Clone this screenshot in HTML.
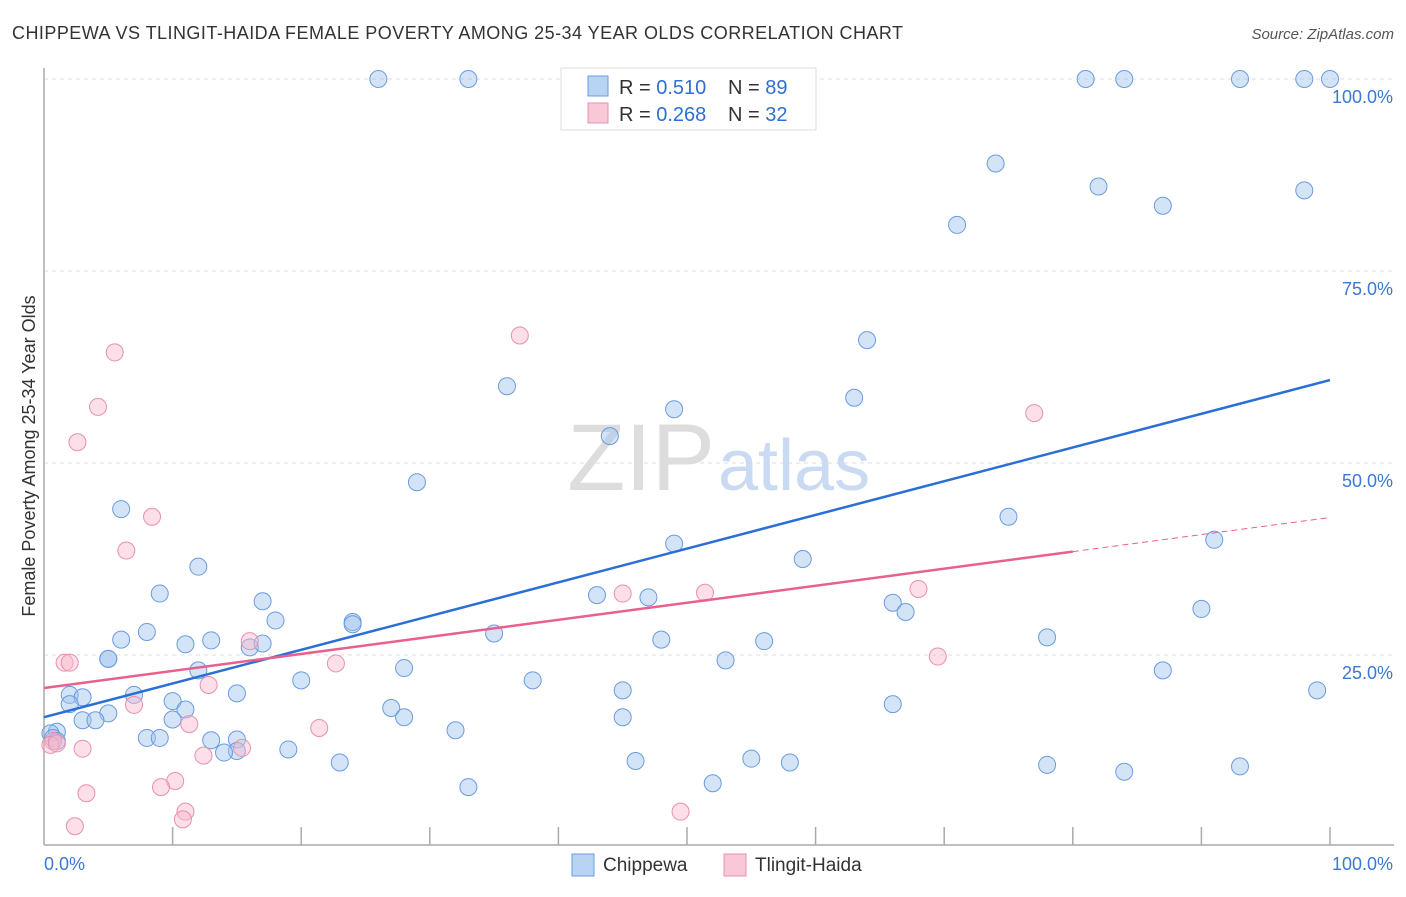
<!DOCTYPE html>
<html><head><meta charset="utf-8"><style>
body{margin:0;background:#fff;font-family:"Liberation Sans",sans-serif}
svg text{font-family:"Liberation Sans",sans-serif}
</style></head><body>
<svg width="1406" height="892">
<text x="12" y="39" font-size="18" fill="#333" textLength="891" lengthAdjust="spacing">CHIPPEWA VS TLINGIT-HAIDA FEMALE POVERTY AMONG 25-34 YEAR OLDS CORRELATION CHART</text>
<text x="1394" y="39" font-size="15" fill="#555" font-style="italic" text-anchor="end">Source: ZipAtlas.com</text>
<g id="grid"></g>
<text x="715" y="490" font-size="95" fill="#ddd" text-anchor="end" font-family="Liberation Serif">ZIP</text>
<text x="718" y="490" font-size="72" fill="#c9daf2">atlas</text>
<g id="axes"></g>
<g id="pts"></g>
<g id="lines"></g>
<text x="35" y="456" font-size="18" fill="#333" text-anchor="middle" transform="rotate(-90 35 456)">Female Poverty Among 25-34 Year Olds</text>
<g>
<rect x="561" y="68" width="255" height="62" fill="#fff" stroke="#ddd"/>
<rect x="588" y="76" width="20" height="20" fill="#b9d3f3" stroke="#6a9be0"/>
<rect x="588" y="103" width="20" height="20" fill="#f9c8d6" stroke="#e890ad"/>
<text x="619" y="94" font-size="20" fill="#333">R = <tspan fill="#2f6fd1">0.510</tspan></text>
<text x="728" y="94" font-size="20" fill="#333">N = <tspan fill="#2f6fd1">89</tspan></text>
<text x="619" y="121" font-size="20" fill="#333">R = <tspan fill="#2f6fd1">0.268</tspan></text>
<text x="728" y="121" font-size="20" fill="#333">N = <tspan fill="#2f6fd1">32</tspan></text>
</g>
<g>
<rect x="572" y="854" width="22" height="22" fill="#b9d3f3" stroke="#6a9be0"/>
<text x="603" y="871" font-size="19" fill="#333">Chippewa</text>
<rect x="724" y="854" width="22" height="22" fill="#f9c8d6" stroke="#e890ad"/>
<text x="755" y="871" font-size="19" fill="#333">Tlingit-Haida</text>
</g>
</svg>
<script>
const yTicks=[25,50,75,100];
const yTickLabels=["25.0%","50.0%","75.0%","100.0%"];
const chipX=[26,33,81,84,93,98,100,74,82,87,98,71,64,36,63,49,44,29,6,75,91,49,59,12,9,17,43,47,66,67,90,18,24,24,8,35,6,48,78,56,11,13,16,17,5,5,53,12,28,87,20,38,45,99,15,2,3,7,2,10,66,11,27,28,45,5,3,4,10,32,1,0.5,0.7,1,8,9,13,15,15,46,55,58,23,78,93,84,14,19,52,33];
const chipY=[100,100,100,100,100,100,100,89,86,83.5,85.5,81,66,60,58.5,57,53.5,47.5,44,43,40,39.5,37.5,36.5,33,32,32.8,32.5,31.8,30.6,31,29.5,29.3,29,28,27.8,27,27,27.3,26.8,26.4,26.9,26,26.5,24.5,24.5,24.3,23,23.3,23,21.7,21.7,20.4,20.4,20,19.8,19.5,19.8,18.6,19,18.6,17.9,18.1,16.9,16.9,17.4,16.5,16.5,16.6,15.2,15,14.8,14.2,13.8,14.2,14.2,13.9,14,12.5,11.2,11.5,11,11,10.7,10.5,9.8,12.3,12.7,8.3,7.8];
const tlX=[37,5.5,4.2,2.6,8.4,6.4,77,68,45,51.4,16,1.6,2,22.7,69.5,12.8,7,11.3,21.4,15.4,3,12.4,0.7,0.5,10.2,9.1,3.3,11,10.8,49.5,2.4,1];
const tlY=[66.6,64.4,57.3,52.7,43,38.6,56.5,33.6,33,33.1,26.8,24,24,23.9,24.8,21.1,18.5,16,15.5,12.9,12.8,11.9,13.8,13.3,8.6,7.8,7,4.6,3.6,4.6,2.7,13.5];
const chipTrend=[16.9,60.8], tlTrend=[20.7,42.9], tlSolidEnd=80;
const X0=44,X1=1330,Y0=847,Y1=79;
const sx=v=>X0+(X1-X0)*v/100, sy=v=>Y0-(Y0-Y1)*v/100;
const NS="http://www.w3.org/2000/svg";
function mk(t,a,p){const e=document.createElementNS(NS,t);for(const k in a)e.setAttribute(k,a[k]);p.appendChild(e);return e;}
const grid=document.getElementById('grid'),axes=document.getElementById('axes'),pts=document.getElementById('pts'),lines=document.getElementById('lines');
yTicks.forEach((t,i)=>{
 const g=mk('line',{x1:44,x2:1394,y1:sy(t),y2:sy(t),stroke:'#ddd','stroke-dasharray':'4,4'},grid);
 
 
 const tx=mk('text',{x:1393,y:sy(t)+24,'font-size':18,fill:'#3a78d4','text-anchor':'end'},grid);
 tx.textContent=yTickLabels[i];
 
 
});
mk('line',{x1:44,x2:44,y1:68,y2:845,stroke:'#aaa','stroke-width':1.5},axes);
mk('line',{x1:44,x2:1394,y1:845,y2:845,stroke:'#aaa','stroke-width':1.5},axes);
for(let i=1;i<=10;i++){const l=mk('line',{x1:sx(i*10),x2:sx(i*10),y1:827,y2:845,stroke:'#aaa','stroke-width':1.5},axes);
 
 }
const xl0=mk('text',{x:44,y:870,'font-size':18,fill:'#3a78d4'},axes);xl0.textContent='0.0%';


const xl1=mk('text',{x:1393,y:870,'font-size':18,fill:'#3a78d4','text-anchor':'end'},axes);xl1.textContent='100.0%';


chipX.forEach((x,i)=>{const c=mk('circle',{cx:sx(x),cy:sy(chipY[i]),r:8.5,fill:'rgba(160,195,238,0.45)',stroke:'#6a9be0','stroke-width':1},pts);
 
 });
tlX.forEach((x,i)=>{const c=mk('circle',{cx:sx(x),cy:sy(tlY[i]),r:8.5,fill:'rgba(248,185,205,0.45)',stroke:'#e890ad','stroke-width':1},pts);
 
 });
const bl=mk('line',{x1:sx(0),y1:sy(chipTrend[0]),x2:sx(100),y2:sy(chipTrend[1]),stroke:'#2a6fd6','stroke-width':2.5},lines);


const ym=tlTrend[0]+(tlTrend[1]-tlTrend[0])*tlSolidEnd/100;
const pl=mk('line',{x1:sx(0),y1:sy(tlTrend[0]),x2:sx(tlSolidEnd),y2:sy(ym),stroke:'#e8608e','stroke-width':2.5},lines);


const pd=mk('line',{x1:sx(tlSolidEnd),y1:sy(ym),x2:sx(100),y2:sy(tlTrend[1]),stroke:'#e8608e','stroke-width':1,'stroke-dasharray':'6,4'},lines);


</script>
</body></html>
